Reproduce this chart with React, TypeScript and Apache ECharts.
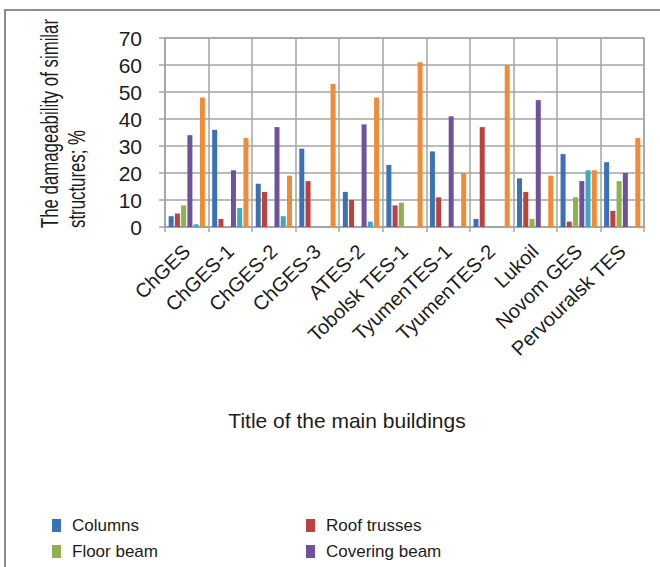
import React, { useEffect, useRef } from "react";
import * as echarts from "echarts";

const categories = [
  "ChGES", "ChGES-1", "ChGES-2", "ChGES-3", "ATES-2", "Tobolsk TES-1",
  "TyumenTES-1", "TyumenTES-2", "Lukoil", "Novom GES", "Pervouralsk TES",
];
const columns = [4, 36, 16, 29, 13, 23, 28, 3, 18, 27, 24];
const roofTrusses = [5, 3, 13, 17, 10, 8, 11, 37, 13, 2, 6];
const floorBeam = [8, 0, 0, 0, 0, 9, 0, 0, 3, 11, 17];
const coveringBeam = [34, 21, 37, 0, 38, 0, 41, 0, 47, 17, 20];
const craneBeams = [1, 7, 4, 0, 2, 0, 0, 0, 0, 21, 0];
const wallPanels = [48, 33, 19, 53, 48, 61, 20, 60, 19, 21, 33];
const yTicks = [0, 10, 20, 30, 40, 50, 60, 70];

const seriesNames = ["Columns", "Roof trusses", "Floor beam", "Covering beam", "Crane beams", "Wall panels"];
const seriesData = [columns, roofTrusses, floorBeam, coveringBeam, craneBeams, wallPanels];
const colors = ["#3b71b5", "#bb423f", "#8fb24e", "#70529c", "#3ea8c3", "#f08b38"];

const FONT = "Liberation Sans, Arial, sans-serif";
const TEXT = "#1c1c1c";
const GRID = "#a4a4a4";

export default function App() {
  const ref = useRef<HTMLDivElement>(null);
  useEffect(() => {
    if (!ref.current) return;
    const chart = echarts.init(ref.current, null, { renderer: "svg" });
    const legendCommon = {
      orient: "vertical",
      top: 517,
      itemWidth: 9,
      itemHeight: 13,
      itemGap: 9,
      padding: 0,
      icon: "rect",
      textStyle: { fontSize: 17, color: TEXT, fontFamily: FONT, padding: [0, 0, 0, 6] },
    };
    chart.setOption({
      animation: false,
      backgroundColor: "#ffffff",
      textStyle: { fontFamily: FONT },
      grid: {
        left: 165, top: 38, right: 16, bottom: 340,
        show: true, borderColor: GRID, borderWidth: 1.5,
      },
      legend: [
        { ...legendCommon, left: 52, data: ["Columns", "Floor beam"] },
        { ...legendCommon, left: 306, data: ["Roof trusses", "Covering beam"] },
      ],
      xAxis: {
        type: "category",
        data: categories,
        axisLine: { lineStyle: { color: GRID, width: 1.5 } },
        axisTick: { show: true, length: 5, lineStyle: { color: GRID, width: 1.5 } },
        splitLine: { show: true, lineStyle: { color: GRID, width: 1.5 } },
        axisLabel: {
          rotate: 44, margin: 21, fontSize: 20, color: TEXT, fontFamily: FONT, interval: 0,
        },
      },
      yAxis: {
        type: "value",
        min: yTicks[0],
        max: yTicks[yTicks.length - 1],
        interval: 10,
        axisLine: { show: true, lineStyle: { color: GRID, width: 1.5 } },
        axisTick: { show: true, length: 6, lineStyle: { color: GRID, width: 1.5 } },
        splitLine: { show: true, lineStyle: { color: GRID, width: 1.5 } },
        axisLabel: { fontSize: 21, margin: 23, color: TEXT, fontFamily: FONT },
      },
      series: seriesNames.map((name, i) => ({
        name,
        type: "bar",
        data: seriesData[i],
        barWidth: 5,
        barGap: "25%",
        itemStyle: { color: colors[i] },
      })),
      graphic: [
        {
          type: "rect",
          shape: { x: 5, y: 10, width: 700, height: 620 },
          style: { fill: "none", stroke: "#8c8c8c", lineWidth: 2 },
          silent: true,
        },
        {
          type: "text",
          x: 63,
          y: 228,
          rotation: Math.PI / 2,
          scaleX: 0.7,
          style: {
            text: "The damageability of similar\nstructures; %",
            fontSize: 24,
            lineHeight: 27,
            fill: TEXT,
            fontFamily: FONT,
            align: "left",
            verticalAlign: "middle",
          },
        },
        {
          type: "text",
          x: 347,
          y: 420,
          style: {
            text: "Title of the main buildings",
            fontSize: 21,
            fill: TEXT,
            fontFamily: FONT,
            align: "center",
            verticalAlign: "middle",
          },
        },
      ],
    });
    return () => chart.dispose();
  }, []);
  return (
    <div
      ref={ref}
      style={{ position: "absolute", left: 0, top: 0, width: 660, height: 567 }}
    />
  );
}
